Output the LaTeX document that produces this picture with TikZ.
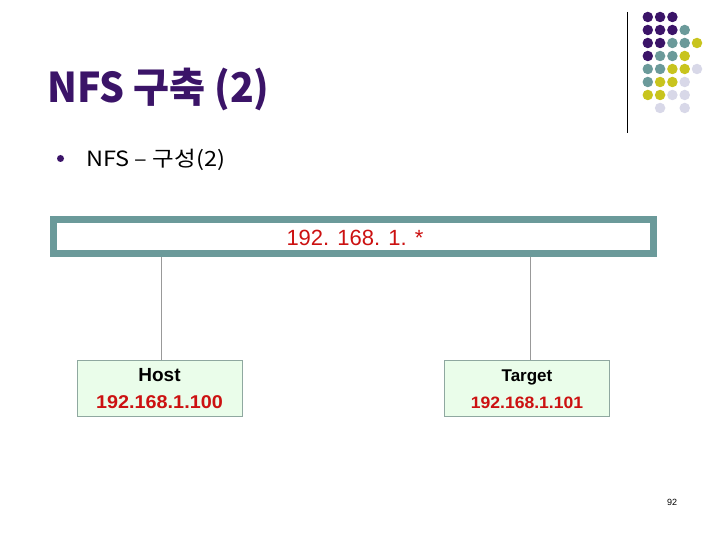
\documentclass[tikz,border=0pt]{standalone}
\usepackage{fontspec}
\setmainfont{Liberation Sans}
\newfontfamily\kr{Noto Sans CJK KR}
\definecolor{dpurple}{HTML}{3B1468}
\definecolor{dteal}{HTML}{6B9A9A}
\definecolor{dyellow}{HTML}{C8C41E}
\definecolor{dlav}{HTML}{D8D8E8}
\definecolor{ipred}{HTML}{CC1111}
\definecolor{boxfill}{HTML}{EAFDEA}
\definecolor{boxline}{HTML}{8FA8A0}
\tikzset{
  dot/.style={circle,inner sep=0pt,minimum size=10.5pt},
  hostbox/.style={draw=boxline,line width=0.8pt,fill=boxfill,minimum width=165pt,minimum height=56pt,inner sep=0pt},
  link/.style={draw=gray!80,line width=0.8pt}
}
\begin{document}
\begin{tikzpicture}[x=1pt,y=-1pt]
\useasboundingbox (0,0) rectangle (720,540);
% decoration dots
\foreach \r/\i/\col in {0/0/dpurple,0/1/dpurple,0/2/dpurple,
  1/0/dpurple,1/1/dpurple,1/2/dpurple,1/3/dteal,
  2/0/dpurple,2/1/dpurple,2/2/dteal,2/3/dteal,2/4/dyellow,
  3/0/dpurple,3/1/dteal,3/2/dteal,3/3/dyellow,
  4/0/dteal,4/1/dteal,4/2/dyellow,4/3/dyellow,4/4/dlav,
  5/0/dteal,5/1/dyellow,5/2/dyellow,5/3/dlav,
  6/0/dyellow,6/1/dyellow,6/2/dlav,6/3/dlav,
  7/1/dlav,7/3/dlav}{
  \node[dot,fill=\col] (d\r\i) at ({647.8+\i*12.3},{17+\r*13}) {};
}
\coordinate (vt) at (627,12);
\coordinate (vb) at (627,133);
\draw[line width=1pt] (vt) -- (vb);
% title
\node[anchor=base west,inner sep=0pt,text=dpurple] (title) at (47,103) {\scalebox{0.955}[1]{\kr\bfseries\fontsize{41}{41}\selectfont NFS 구축 (2)}};
% bullet
\node[circle,fill=dpurple,inner sep=0pt,minimum size=7pt] (bul) at (60.5,158.5) {};
\node[anchor=base west,inner sep=0pt] (sub) at (86,166.5) {\scalebox{1.12}[1]{\kr\fontsize{21}{21}\selectfont NFS – 구성(2)}};
% network bar
\node[draw=dteal,line width=7pt,fill=white,minimum width=600pt,minimum height=34pt,inner sep=0pt] (bar) at (353.5,236.5) {};
\node[text=ipred,inner sep=0pt] (net) at (355,237.5) {\fontsize{22}{22}\selectfont 192. 168. 1. *};
% hosts
\node[hostbox] (host) at (159.5,388) {};
\node[anchor=center] (hlab) at (159.5,375) {\bfseries\fontsize{19}{19}\selectfont Host};
\node[anchor=center,text=ipred] (hip) at (159.5,402.5) {\scalebox{1.07}[1]{\bfseries\fontsize{18.5}{18.5}\selectfont 192.168.1.100}};
\node[hostbox] (target) at (527,388) {};
\node[anchor=center] (tlab) at (527,377) {\bfseries\fontsize{17}{17}\selectfont Target};
\node[anchor=center,text=ipred] (tip) at (527,403) {\scalebox{1.065}[1]{\bfseries\fontsize{16.5}{16.5}\selectfont 192.168.1.101}};
\coordinate (hl) at (161,360);
\coordinate (tl) at (530,360);
\path[link] (hl) -- (hl |- bar.south);
\path[link] (tl) -- (tl |- bar.south);
% page number
\node[font=\fontsize{9}{9}\selectfont] (pg) at (672,502) {92};
\end{tikzpicture}
\end{document}
